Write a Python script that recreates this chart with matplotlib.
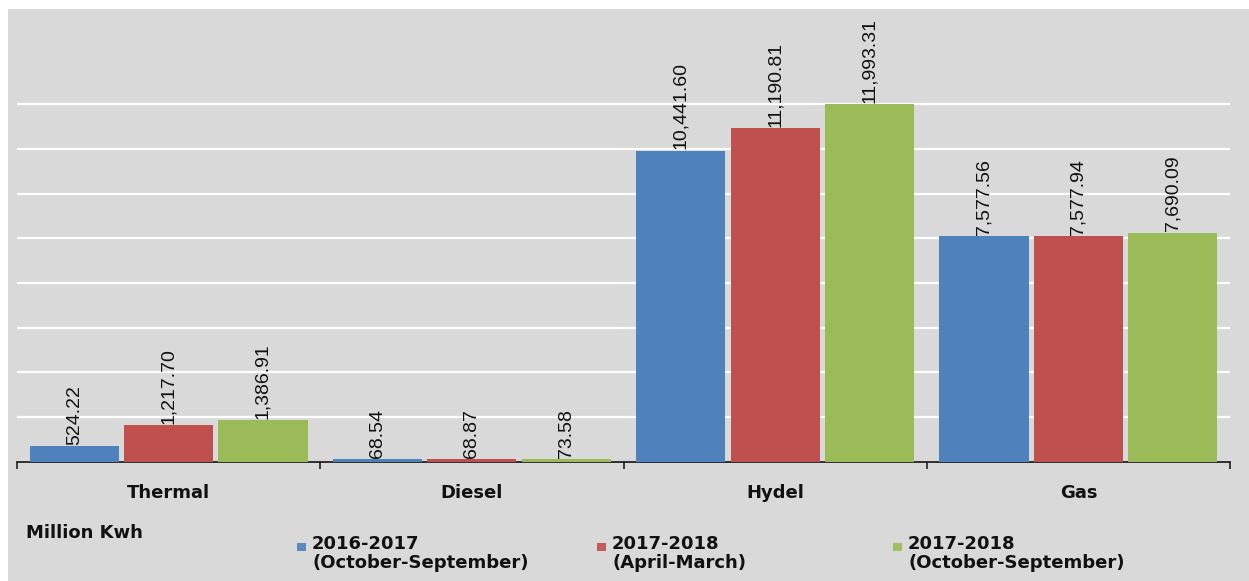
import numpy as np
import matplotlib.pyplot as plt
from matplotlib.patches import Rectangle
from matplotlib.transforms import blended_transform_factory

plt.rcParams['font.family'] = ['Liberation Sans', 'DejaVu Sans']

# Datos
categorias = ['Thermal', 'Diesel', 'Hydel', 'Gas']
serie_2016_17 = [524.22, 68.54, 10441.60, 7577.56]
serie_2017_18_am = [1217.70, 68.87, 11190.81, 7577.94]
serie_2017_18_os = [1386.91, 73.58, 11993.31, 7690.09]
nombres = ['2016-2017\n(October-September)', '2017-2018\n(April-March)',
           '2017-2018\n(October-September)']
colores = ['#4f81bd', '#c0504d', '#9bbb59']

series = [serie_2016_17, serie_2017_18_am, serie_2017_18_os]

W, H = 1249, 581
fig = plt.figure(figsize=(W / 100, H / 100), dpi=100)
fig.patch.set_facecolor('white')
# fondo gris del gráfico (detrás de los ejes)
fondo = Rectangle((8 / W, 0), 1 - 8 / W, 1 - 9 / H, transform=fig.transFigure,
                  facecolor='#d9d9d9', edgecolor='none', zorder=-10)
fig.add_artist(fondo)

ax = fig.add_axes([17 / W, (H - 461.5) / H, (1230 - 17) / W, (461.5 - 9) / H])
ax.set_facecolor('#d9d9d9')
ax.set_zorder(1)

x = np.arange(len(categorias))
ancho = 0.294
paso = 0.311
for i, (vals, col) in enumerate(zip(series, colores)):
    pos = x + (i - 1) * paso
    ax.bar(pos, vals, width=ancho, color=col, zorder=3)
    for p, v in zip(pos, vals):
        ax.annotate(f'{v:,.2f}', (p, v), xytext=(0, 1), textcoords='offset points',
                    rotation=90, ha='center', va='bottom', fontsize=14,
                    color='#111111', zorder=4)

ax.set_xlim(-0.5, len(categorias) - 0.5)
ax.set_ylim(0, 15200)
ax.set_yticks(np.arange(1500, 12001, 1500))
ax.yaxis.grid(True, color='white', linewidth=1.6, zorder=1)
ax.tick_params(axis='y', length=0, labelleft=False)

ax.set_xticks(np.arange(-0.5, len(categorias)))
ax.set_xticklabels([])
ax.tick_params(axis='x', direction='out', length=5, width=1.2, color='#222222')
trans_cat = blended_transform_factory(ax.transData, fig.transFigure)
for xi, c in zip(x, categorias):
    ax.text(xi, (H - 492.5) / H, c, transform=trans_cat, ha='center', va='center',
            fontsize=13, fontweight='bold', color='#111111', family='DejaVu Sans',
            clip_on=False)

for s in ['top', 'right', 'left']:
    ax.spines[s].set_visible(False)
ax.spines['bottom'].set_color('#222222')
ax.spines['bottom'].set_linewidth(1.3)

# Unidades y leyenda
fig.text(26 / W, 1 - 533 / H, 'Million Kwh', fontsize=13, fontweight='bold',
         color='#111111', va='center', ha='left', family='DejaVu Sans')
leg_x = [297, 597, 893]
for lx, nom, col in zip(leg_x, nombres, colores):
    fig.add_artist(Rectangle((lx / W, 1 - 551 / H), 9 / W, 8 / H,
                             transform=fig.transFigure, facecolor=col,
                             edgecolor='none', alpha=0.9))
    fig.text((lx + 15) / W, 1 - 535 / H, nom, fontsize=13, fontweight='bold',
             color='#111111', va='top', ha='left', linespacing=1.05,
             family='DejaVu Sans')

fig.savefig('out.png', dpi=100)
